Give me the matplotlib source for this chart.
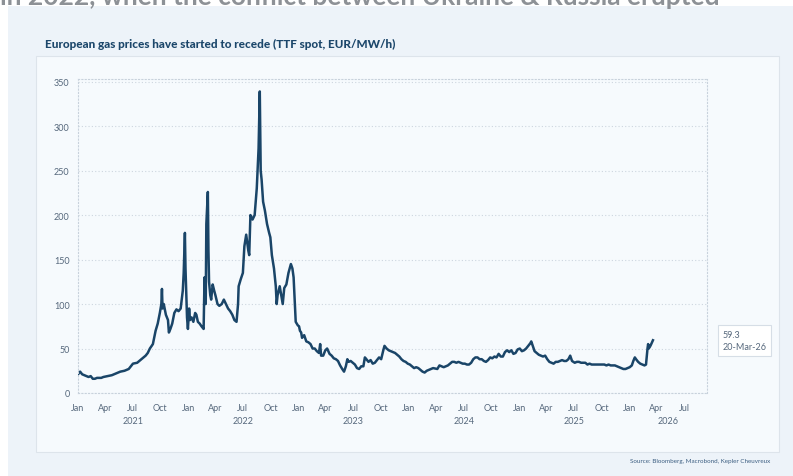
import numpy as np
import pandas as pd
import matplotlib
matplotlib.use('Agg')
import matplotlib.pyplot as plt
import matplotlib.dates as mdates
from matplotlib.patches import Rectangle

plt.rcParams['font.family'] = ['Lato', 'DejaVu Sans']

# TTF spot, EUR/MWh
days_2021 = ['01-01', '01-08', '01-15', '01-22', '01-29', '02-05', '02-12', '02-19', '02-26',
             '03-05', '03-12', '03-19', '03-26', '04-09', '04-23', '05-07', '05-21', '06-04',
             '06-18', '07-02', '07-16', '07-30', '08-13', '08-20', '08-27', '09-06', '09-15',
             '09-22', '09-29', '10-04', '10-06', '10-08', '10-12', '10-19', '10-26', '10-29',
             '11-03', '11-09', '11-16', '11-23', '11-30', '12-07', '12-14', '12-17', '12-21',
             '12-23', '12-28', '12-31']
ttf_2021 = [21, 24, 21, 20, 19, 18, 19, 16, 16,
            17, 17, 17, 18, 19, 20, 22, 24, 25,
            27, 33, 34, 38, 42, 45, 50, 55, 70,
            78, 90, 100, 117, 95, 100, 88, 82, 68,
            72, 78, 90, 94, 92, 95, 115, 135, 180,
            140, 85, 72]

days_2022 = ['01-04', '01-07', '01-12', '01-18', '01-24', '01-28', '02-02', '02-08', '02-14',
             '02-21', '02-24', '02-28', '03-02', '03-07', '03-09', '03-11', '03-15', '03-18',
             '03-23', '03-28', '04-01', '04-08', '04-14', '04-22', '04-29', '05-06', '05-13',
             '05-20', '05-27', '06-03', '06-10', '06-15', '06-17', '06-24', '07-01', '07-06',
             '07-12', '07-19', '07-22', '07-26', '08-02', '08-09', '08-16', '08-22', '08-26',
             '08-29', '09-01', '09-06', '09-12', '09-19', '09-26', '09-30', '10-05', '10-12',
             '10-18', '10-21', '10-24', '10-31', '11-04', '11-10', '11-15', '11-22', '11-29',
             '12-07', '12-12', '12-16', '12-20', '12-23', '12-30']
ttf_2022 = [95, 82, 85, 80, 90, 88, 80, 78, 75,
            72, 130, 100, 190, 226, 160, 125, 110, 105,
            122, 115, 110, 100, 98, 100, 105, 100, 95,
            92, 88, 82, 80, 100, 120, 128, 135, 165,
            178, 160, 155, 200, 195, 200, 230, 275, 339,
            250, 240, 215, 205, 190, 180, 175, 155, 140,
            120, 100, 110, 120, 112, 100, 118, 122, 135,
            145, 140, 130, 100, 80, 76]

days_2023 = ['01-03', '01-06', '01-10', '01-13', '01-20', '01-27', '02-03', '02-10', '02-17',
             '02-24', '03-03', '03-10', '03-14', '03-17', '03-24', '03-31', '04-06', '04-14',
             '04-21', '04-28', '05-05', '05-12', '05-19', '05-26', '06-01', '06-07', '06-12',
             '06-16', '06-23', '06-30', '07-07', '07-14', '07-21', '07-28', '08-04', '08-09',
             '08-14', '08-21', '08-28', '09-04', '09-11', '09-18', '09-25', '10-02', '10-09',
             '10-13', '10-20', '10-27', '11-03', '11-10', '11-17', '11-24', '12-01', '12-08',
             '12-15', '12-22', '12-29']
ttf_2023 = [75, 70, 68, 62, 65, 58, 57, 55, 50,
            50, 47, 45, 55, 42, 42, 48, 50, 44,
            42, 39, 38, 36, 31, 27, 24, 30, 38,
            35, 36, 34, 32, 28, 27, 30, 30, 40,
            38, 35, 37, 33, 34, 37, 40, 38, 48,
            53, 50, 48, 47, 46, 45, 43, 41, 38,
            36, 35, 33]

days_2024 = ['01-05', '01-12', '01-19', '01-26', '02-02', '02-09', '02-16', '02-23', '03-01',
             '03-08', '03-15', '03-22', '04-05', '04-12', '04-19', '04-26', '05-03', '05-10',
             '05-17', '05-24', '05-31', '06-07', '06-14', '06-21', '06-28', '07-05', '07-12',
             '07-19', '07-26', '08-02', '08-09', '08-16', '08-23', '08-30', '09-06', '09-13',
             '09-20', '09-27', '10-04', '10-11', '10-18', '10-25', '11-01', '11-08', '11-15',
             '11-22', '11-29', '12-06', '12-13', '12-20', '12-27']
ttf_2024 = [32, 30, 28, 29, 28, 26, 24, 23, 25,
            26, 27, 28, 27, 31, 30, 29, 30, 31,
            33, 35, 35, 34, 35, 34, 33, 33, 32,
            32, 34, 38, 40, 40, 38, 38, 36, 35,
            37, 40, 39, 41, 40, 44, 41, 41, 46,
            48, 46, 48, 44, 45, 49]

days_2025 = ['01-03', '01-10', '01-17', '01-24', '01-31', '02-07', '02-10', '02-14', '02-21',
             '02-28', '03-07', '03-14', '03-21', '03-28', '04-04', '04-11', '04-18', '04-25',
             '05-02', '05-09', '05-16', '05-23', '05-30', '06-06', '06-13', '06-19', '06-25',
             '07-04', '07-11', '07-18', '07-25', '08-01', '08-08', '08-15', '08-22', '08-29',
             '09-05', '09-12', '09-19', '09-26', '10-03', '10-10', '10-17', '10-24', '10-31',
             '11-07', '11-14', '11-21', '11-28', '12-05', '12-12', '12-19', '12-26']
ttf_2025 = [50, 47, 48, 50, 53, 56, 58, 54, 47,
            45, 43, 42, 41, 42, 38, 35, 34, 33,
            35, 35, 36, 37, 36, 36, 38, 42, 36,
            34, 35, 35, 34, 34, 34, 32, 33, 32,
            32, 32, 32, 32, 32, 32, 31, 32, 31,
            31, 31, 30, 29, 28, 27, 27, 28]

days_2026 = ['01-02', '01-09', '01-14', '01-19', '01-23', '01-30', '02-06', '02-13', '02-20',
             '02-25', '03-02', '03-04', '03-06', '03-10', '03-13', '03-17', '03-20']
ttf_2026 = [29, 31, 36, 40, 38, 35, 33, 32, 31,
            32, 50, 55, 50, 52, 54, 57, 59.3]

series = {2021: (days_2021, ttf_2021), 2022: (days_2022, ttf_2022), 2023: (days_2023, ttf_2023),
          2024: (days_2024, ttf_2024), 2025: (days_2025, ttf_2025), 2026: (days_2026, ttf_2026)}

dates = []
ttf = []
for yr, (dd, vv) in series.items():
    dates += [pd.Timestamp(f'{yr}-{d}') for d in dd]
    ttf += vv
dates = pd.to_datetime(dates)

title = 'European gas prices have started to recede (TTF spot, EUR/MW/h)'
headline = 'in 2022, when the conflict between Ukraine & Russia erupted'
source = 'Source: Bloomberg, Macrobond, Kepler Cheuvreux'

W, H = 793, 477
fig = plt.figure(figsize=(W / 100, H / 100), dpi=100)
fig.patch.set_facecolor('white')

# fonds
fig.add_artist(Rectangle((8 / W, 0), 1, 1 - 7 / H, transform=fig.transFigure,
                         fc='#edf3f9', ec='none', zorder=-3))
fig.add_artist(Rectangle((36 / W, 1 - 453 / H), (779 - 36) / W, (453 - 57) / H,
                         transform=fig.transFigure, fc='#f6fafd', ec='#dde4eb', lw=0.8, zorder=-2))

# headline is cropped at the top edge in the source image
fig.text(0, 1 - 5 / H, headline, fontsize=19, fontweight='bold', color='#8d9196', va='baseline')
fig.text(45 / W, 1 - 44 / H, title, fontsize=8.5, fontweight='black', color='#1c476b', va='center')
fig.text(770 / W, 1 - 462 / H, source, fontsize=4.5, color='#3d5f82', ha='right', va='center')

ax = fig.add_axes([78 / W, 1 - 394 / H, (707 - 78) / W, (394 - 80) / H])
ax.set_facecolor('none')
ax.plot(dates, ttf, color='#1a4568', lw=1.8, solid_joinstyle='round')

ax.set_ylim(0, 353)
ax.set_yticks(np.arange(0, 351, 50))
xmin, xmax = pd.Timestamp('2021-01-01'), pd.Timestamp('2026-09-15')
ax.set_xlim(xmin, xmax)
ax.xaxis.set_major_locator(mdates.MonthLocator(bymonth=[1, 4, 7, 10]))
ax.xaxis.set_major_formatter(mdates.DateFormatter('%b'))

ax.yaxis.grid(True, linestyle=(0, (1, 2)), color='#cdd6df', lw=0.8)
for s in ax.spines.values():
    s.set_linestyle((0, (1, 2)))
    s.set_color('#c8d2dc')
    s.set_linewidth(0.8)
ax.tick_params(axis='both', length=0, labelsize=6.5, labelcolor='#56687c')
ax.tick_params(axis='x', pad=7)
ax.tick_params(axis='y', pad=6)

# year labels centred under the visible part of each year
for yr in range(2021, 2027):
    a = max(pd.Timestamp(f'{yr}-01-01'), xmin)
    b = min(pd.Timestamp(f'{yr}-12-31'), xmax)
    mid = a + (b - a) / 2
    ax.text(mid, -0.089, str(yr), transform=ax.get_xaxis_transform(),
            ha='center', va='center', fontsize=6.5, color='#56687c')

# last value label
ax.annotate(f'{ttf[-1]:.1f}\n{dates[-1]:%d-%b-%y}', xy=(1.024, ttf[-1]),
            xycoords=ax.get_yaxis_transform(), ha='left', va='center',
            fontsize=6.5, color='#56687c', linespacing=1.5, annotation_clip=False,
            bbox=dict(boxstyle='square,pad=0.5', fc='white', ec='#d6dee6', lw=0.8))

plt.savefig('out.png', dpi=100)
